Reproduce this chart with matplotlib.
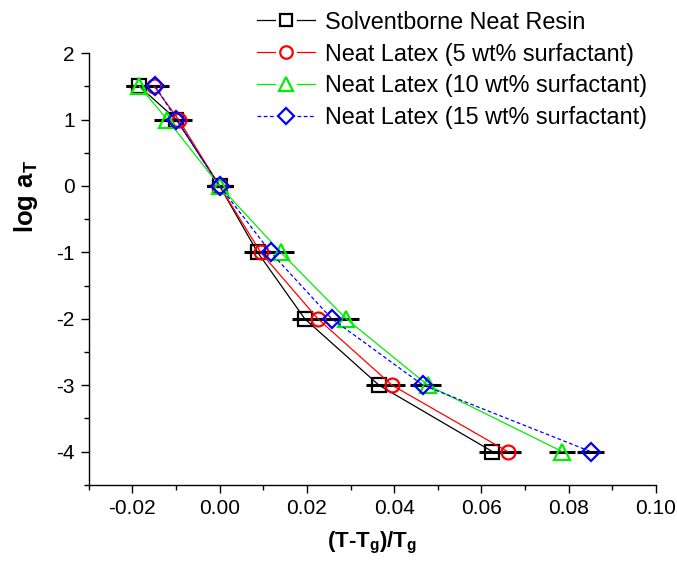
import numpy as np
import matplotlib.pyplot as plt
from matplotlib.ticker import MultipleLocator
from matplotlib.lines import Line2D
from matplotlib.legend_handler import HandlerLine2D

plt.rcParams['font.family'] = ['Liberation Sans', 'DejaVu Sans']
plt.rcParams['mathtext.default'] = 'regular'
plt.rcParams['axes.unicode_minus'] = False

# log aT levels and reduced temperature for each sample
log_aT = [1.5, 1.0, 0.0, -1.0, -2.0, -3.0, -4.0]
x_solvent = [-0.0184, -0.0099, 0.0, 0.0087, 0.0195, 0.0365, 0.0625]
x_latex5 = [-0.0150, -0.0094, 0.0, 0.0094, 0.0225, 0.0395, 0.0660]
x_latex10 = [-0.0184, -0.0120, 0.0, 0.0140, 0.0290, 0.0477, 0.0785]
x_latex15 = [-0.0147, -0.0099, 0.0, 0.0117, 0.0257, 0.0466, 0.0850]
x_err = 0.003

labels = ['Solventborne Neat Resin', 'Neat Latex (5 wt% surfactant)',
          'Neat Latex (10 wt% surfactant)', 'Neat Latex (15 wt% surfactant)']
series = [x_solvent, x_latex5, x_latex10, x_latex15]
colors = ['black', 'red', '#00ee00', 'blue']
markers = ['s', 'o', '^', 'D']
msizes = [10, 10, 11, 9]
styles = ['-', '-', '-', (0, (3, 2))]
line_style = dict(zip(labels, styles))


class GapHandler(HandlerLine2D):
    # origin-style legend entry: line, marker, line with gaps in between
    def create_artists(self, legend, orig, xd, yd, w, h, fs, trans):
        y = h / 2 - yd
        x0 = -xd
        gap = 0.19 * w
        c = orig.get_color()
        out = []
        for a, b in [(x0, x0 + w / 2 - gap), (x0 + w / 2 + gap, x0 + w)]:
            ln = Line2D([a, b], [y, y], color=c, lw=orig.get_linewidth(),
                        ls=line_style[orig.get_label()])
            ln.set_transform(trans)
            out.append(ln)
        mk = Line2D([x0 + w / 2], [y], ls='none', marker=orig.get_marker(),
                    ms=orig.get_markersize() * 0.9, mfc='none', mec=c,
                    mew=orig.get_markeredgewidth())
        mk.set_transform(trans)
        out.append(mk)
        return out


fig = plt.figure(figsize=(6.77, 5.65), dpi=100)
ax = fig.add_axes([0.131, 0.142, 0.838, 0.764])

handles = []
for xs, lab, c, m, ms, ls in zip(series, labels, colors, markers, msizes, styles):
    ax.errorbar(xs, log_aT, xerr=x_err, fmt='none', ecolor='black',
                elinewidth=2.2, capsize=0, zorder=2)
    h, = ax.plot(xs, log_aT, color=c, lw=0.9, ls=ls, marker=m, ms=ms,
                 mfc='none', mec=c, mew=1.6, label=lab, zorder=3)
    handles.append(h)

ax.set_xlim(-0.03, 0.10)
ax.set_ylim(-4.5, 2.0)
ax.xaxis.set_major_locator(MultipleLocator(0.02))
ax.xaxis.set_minor_locator(MultipleLocator(0.01))
ax.yaxis.set_major_locator(MultipleLocator(1))
ax.yaxis.set_minor_locator(MultipleLocator(0.5))
ax.set_xticks([-0.02, 0.0, 0.02, 0.04, 0.06, 0.08, 0.10])
ax.set_xticklabels(['-0.02', '0.00', '0.02', '0.04', '0.06', '0.08', '0.10'])
ax.tick_params(which='both', direction='out', width=1.0, labelsize=15)
ax.tick_params(which='major', length=6, pad=4)
ax.tick_params(which='minor', length=3.5)
for s in ['top', 'right']:
    ax.spines[s].set_visible(False)
for s in ['left', 'bottom']:
    ax.spines[s].set_linewidth(1.0)

ax.set_xlabel('(T-T$_g$)/T$_g$', fontsize=16, fontweight='bold', labelpad=9)
ax.set_ylabel('log a$_T$', fontsize=18.5, fontweight='bold')
ax.yaxis.set_label_coords(-0.086, 0.667)

ax.legend(handles=handles, loc='upper right', bbox_to_anchor=(1.0, 1.12),
          frameon=False, fontsize=16.8, handlelength=2.5, handletextpad=0.4,
          labelspacing=0.38, borderaxespad=0,
          handler_map={Line2D: GapHandler()})

fig.savefig('out.png', dpi=100)
